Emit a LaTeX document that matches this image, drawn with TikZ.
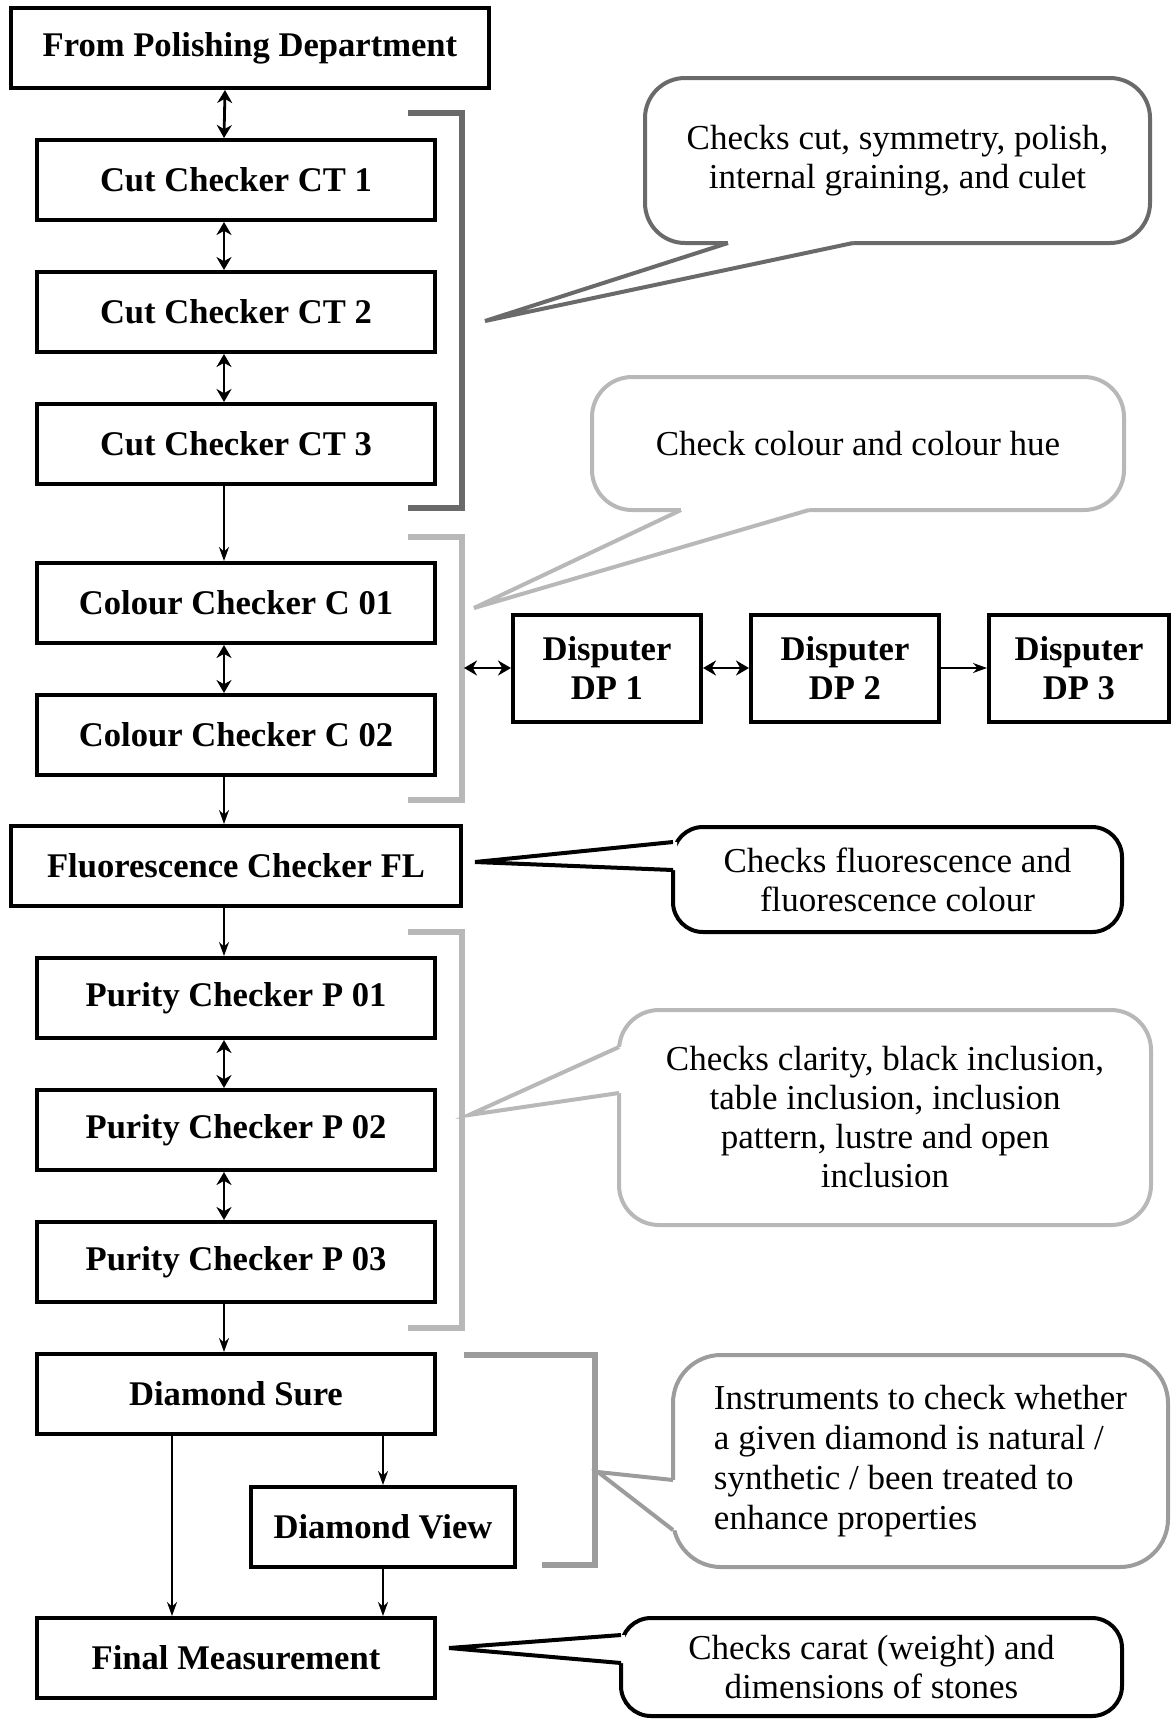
\documentclass[tikz,border=0pt]{standalone}
\usepackage{fontspec}
\setmainfont{Liberation Serif}
\usetikzlibrary{arrows.meta}
\definecolor{cutgray}{HTML}{6A6A6A}
\definecolor{palegray}{HTML}{B8B8B8}
\definecolor{midgray}{HTML}{9C9C9C}

\begin{document}
\begin{tikzpicture}[
    x=0.5pt, y=-0.5pt,
    stage/.style={rectangle, draw, line width=2pt, minimum width=199pt, minimum height=40pt, inner sep=0pt, align=center, font=\fontsize{17.3}{19.5}\selectfont\bfseries},
    note/.style={rectangle, draw, line width=2pt, rounded corners=20pt, fill=white, inner sep=0pt, align=center, font=\fontsize{17.5}{19.5}\selectfont},
    arrow/.style={-{Stealth[length=7pt,width=5pt]}, line width=0.8pt},
    darrow/.style={{Stealth[length=6.5pt,width=7.5pt]}-{Stealth[length=6.5pt,width=7.5pt]}, line width=1.4pt},
    bracket/.style={line width=3pt, line join=miter},
    pointer/.style={line width=2pt, line join=miter}
]
\useasboundingbox (0,0) rectangle (1173,1720);

% Main chain of checkers
\node[stage, minimum width=239pt] (polish) at (250,48) {From Polishing Department};
\node[stage] (ct1) at (236,180) {Cut Checker CT 1};
\node[stage] (ct2) at (236,312) {Cut Checker CT 2};
\node[stage] (ct3) at (236,444) {Cut Checker CT 3};
\node[stage] (col1) at (236,603) {Colour Checker C 01};
\node[stage] (col2) at (236,735) {Colour Checker C 02};
\node[stage, minimum width=225pt] (fl) at (236,866) {Fluorescence Checker FL};
\node[stage] (pur1) at (236,998) {Purity Checker P 01};
\node[stage] (pur2) at (236,1130) {Purity Checker P 02};
\node[stage] (pur3) at (236,1262) {Purity Checker P 03};
\node[stage] (dsure) at (236,1394) {Diamond Sure};
\node[stage, minimum width=132pt] (dview) at (383,1527) {Diamond View};
\node[stage] (final) at (236,1658) {Final Measurement};

% Disputers
\node[stage, minimum width=94pt, minimum height=53.5pt] (dp1) at (607,668) {Disputer\\DP 1};
\node[stage, minimum width=94pt, minimum height=53.5pt] (dp2) at (845,668) {Disputer\\DP 2};
\node[stage, minimum width=90pt, minimum height=53.5pt] (dp3) at (1079,668) {Disputer\\DP 3};

% Group brackets
\draw[bracket, cutgray] (408,113) -- (462,113) -- (462,508) -- (408,508);
\draw[bracket, palegray] (408,537) -- (462,537) -- (462,800) -- (408,800);
\draw[bracket, palegray] (408,932) -- (462,932) -- (462,1328) -- (408,1328);
\draw[bracket, midgray] (464,1355) -- (595,1355) -- (595,1565) -- (542,1565);
\coordinate (colbr) at (464,668);

% Arrows along the chain
\draw[darrow] ([xshift=-12.5pt]polish.south) -- ([xshift=-6pt]ct1.north);
\draw[darrow] ([xshift=-6pt]ct1.south) -- ([xshift=-6pt]ct2.north);
\draw[darrow] ([xshift=-6pt]ct2.south) -- ([xshift=-6pt]ct3.north);
\draw[arrow] ([xshift=-6pt]ct3.south) -- ([xshift=-6pt]col1.north);
\draw[darrow] ([xshift=-6pt]col1.south) -- ([xshift=-6pt]col2.north);
\draw[arrow] ([xshift=-6pt]col2.south) -- ([xshift=-6pt]fl.north);
\draw[arrow] ([xshift=-6pt]fl.south) -- ([xshift=-6pt]pur1.north);
\draw[darrow] ([xshift=-6pt]pur1.south) -- ([xshift=-6pt]pur2.north);
\draw[darrow] ([xshift=-6pt]pur2.south) -- ([xshift=-6pt]pur3.north);
\draw[arrow] ([xshift=-6pt]pur3.south) -- ([xshift=-6pt]dsure.north);
\draw[arrow] ([xshift=-32pt]dsure.south) -- ([xshift=-32pt]final.north);
\draw[arrow] (dview.north |- dsure.south) -- (dview.north);
\draw[arrow] (dview.south) -- (dview.south |- final.north);

% Arrows to the disputers
\draw[darrow] (colbr) -- (dp1.west);
\draw[darrow] (dp1.east) -- (dp2.west);
\draw[arrow] (dp2.east) -- (dp3.west);

% Callouts
\node[note, draw=cutgray, minimum width=252.5pt, minimum height=82.5pt] (cutnote) at (897.5,160.5) {Checks cut, symmetry, polish,\\internal graining, and culet};
\fill[white] (728,239) -- (728,243) -- (485,321) -- (853,243) -- (853,239) -- cycle;
\draw[pointer, cutgray] (728,243) -- (485,321) -- (853,243);

\node[note, draw=palegray, minimum width=266pt, minimum height=66.5pt] (colnote) at (858,443.5) {Check colour and colour hue};
\fill[white] (681,506) -- (681,510) -- (474,608) -- (809,510) -- (809,506) -- cycle;
\draw[pointer, palegray] (681,510) -- (474,608) -- (809,510);

\node[note, rounded corners=15pt, minimum width=224.5pt, minimum height=52.5pt] (flnote) at (897.5,879.5) {Checks fluorescence and\\fluorescence colour};
\fill[white] (677,842) -- (673,842) -- (475,862) -- (673,870) -- (677,870) -- cycle;
\draw[pointer] (673,842) -- (475,862) -- (673,870);

\node[note, draw=palegray, minimum width=266pt, minimum height=107.5pt] (purnote) at (885,1117.5) {Checks clarity, black inclusion,\\table inclusion, inclusion\\pattern, lustre and open\\inclusion};
\fill[white] (623,1047) -- (619,1047) -- (469,1115) -- (619,1093) -- (623,1093) -- cycle;
\draw[pointer, palegray] (619,1047) -- (469,1115) -- (619,1093);

\node[note, draw=midgray, rounded corners=24pt, align=left, font=\fontsize{17.5}{20}\selectfont, minimum width=247.5pt, minimum height=106pt] (dianote) at (920.5,1461) {Instruments to check whether\\a given diamond is natural /\\synthetic / been treated to\\enhance properties};
\fill[white] (677,1480) -- (673,1480) -- (598,1472) -- (673,1530) -- (677,1530) -- cycle;
\draw[pointer, midgray] (673,1480) -- (598,1472) -- (673,1530);

\node[note, rounded corners=15pt, minimum width=250.5pt, minimum height=49pt] (finnote) at (871.5,1667) {Checks carat (weight) and\\dimensions of stones};
\fill[white] (625,1635) -- (621,1635) -- (449,1648) -- (621,1663) -- (625,1663) -- cycle;
\draw[pointer] (621,1635) -- (449,1648) -- (621,1663);

\end{tikzpicture}
\end{document}
